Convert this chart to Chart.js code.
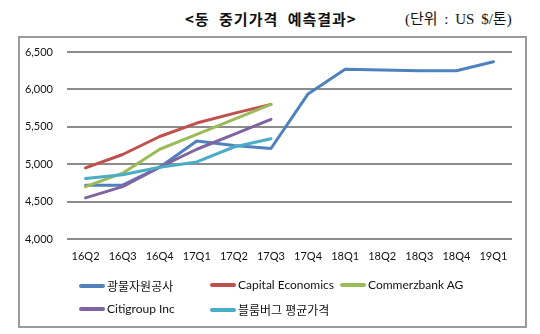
<!DOCTYPE html>
<html>
<head>
<meta charset="utf-8">
<script src="https://cdn.jsdelivr.net/npm/chart.js@4.4.1/dist/chart.umd.min.js"></script>
<style>
  html, body { margin: 0; padding: 0; background: #fff; }
  #wrap { position: relative; width: 540px; height: 334px; font-family: Lato, "Noto Sans CJK KR", sans-serif; }
  #frame { position: absolute; left: 18px; top: 36px; width: 505px; height: 288px; border: 2px solid #9a9a9a; }
  #chartBox { position: absolute; left: 0; top: 0; width: 540px; height: 334px; }
  #title { position: absolute; left: 185px; top: 8px; font: bold 15px "Noto Sans CJK KR", sans-serif; letter-spacing: 1px; word-spacing: 5px; color: #111; white-space: nowrap; }
  #unit { position: absolute; left: 405px; top: 7px; font: 15px "Liberation Serif", "Noto Sans CJK KR", serif; word-spacing: 3px; color: #111; white-space: nowrap; }
  .lg { position: absolute; display: flex; align-items: center; font-size: 12px; color: #111; white-space: nowrap; }
  .lg span.mark { display: inline-block; width: 26px; height: 4px; border-radius: 2px; margin-right: 2px; }
</style>
</head>
<body>
<div id="wrap">
  <div id="title">&lt;동 중기가격 예측결과&gt;</div>
  <div id="unit">(단위 : US $/톤)</div>
  <div id="frame"></div>
  <div id="chartBox"><canvas id="lineChart"></canvas></div>
  <div id="legend"></div>
</div>
<script>
// Trimestres (axe X)
const quarters = ['16Q2', '16Q3', '16Q4', '17Q1', '17Q2', '17Q3', '17Q4', '18Q1', '18Q2', '18Q3', '18Q4', '19Q1'];

// Prévisions par institution (US $/톤)
const kores = [4720, 4720, 4960, 5310, 5250, 5210, 5940, 6270, 6260, 6250, 6250, 6370];
const capitalEconomics = [4950, 5130, 5370, 5550, 5680, 5800];
const commerzbank = [4700, 4880, 5200, 5400, 5600, 5800];
const citigroup = [4550, 4700, 4960, 5200, 5400, 5600];
const bloomberg = [4810, 4860, 4960, 5030, 5230, 5340];

const seriesNames = ['광물자원공사', 'Capital Economics', 'Commerzbank AG', 'Citigroup Inc', '블룸버그 평균가격'];
const seriesColors = ['#4F81BD', '#C0504D', '#9BBB59', '#8064A2', '#4BACC6'];

// Graduations de l'axe Y
const yMin = 4000;
const yMax = 6500;
const yStep = 500;

function createLineChart() {
  const ctx = document.getElementById('lineChart');
  const allValues = [kores, capitalEconomics, commerzbank, citigroup, bloomberg];

  const datasets = allValues.map((values, i) => ({
    label: seriesNames[i],
    data: values,
    borderColor: seriesColors[i],
    backgroundColor: seriesColors[i],
    borderWidth: 3,
    pointRadius: 0,
    tension: 0,
    borderCapStyle: 'round',
    borderJoinStyle: 'round',
    order: allValues.length - i // comme Excel : la dernière série au-dessus
  }));

  return new Chart(ctx, {
    type: 'line',
    data: { labels: quarters, datasets: datasets },
    options: {
      responsive: true,
      maintainAspectRatio: false,
      animation: false,
      layout: { padding: { left: 0, right: 28, top: 52, bottom: 65 } },
      plugins: {
        legend: { display: false },
        title: { display: false },
        tooltip: { enabled: false }
      },
      scales: {
        x: {
          offset: true,
          grid: { display: false, drawTicks: false },
          border: { display: false },
          ticks: { color: '#111', padding: 11, maxRotation: 0, font: { family: 'Lato', size: 11 } },
          afterFit: (s) => { s.height = 30; }
        },
        y: {
          min: yMin,
          max: yMax,
          grid: { color: '#8c8c8c', lineWidth: 2, drawTicks: false },
          border: { display: false },
          ticks: {
            stepSize: yStep,
            color: '#111',
            padding: 14,
            font: { family: 'Lato', size: 11 },
            callback: (v) => v.toLocaleString('en-US')
          },
          afterFit: (s) => { s.width = 67; }
        }
      }
    }
  });
}

// Légende HTML (disposition en colonnes comme l'original)
function createLegend(chart) {
  const slots = [[79, 277], [210, 277], [340, 277], [79, 301], [210, 301]];
  const box = document.getElementById('legend');
  chart.data.datasets.forEach((ds, i) => {
    const item = document.createElement('div');
    item.className = 'lg';
    item.style.left = slots[i][0] + 'px';
    item.style.top = slots[i][1] + 'px';
    const mark = document.createElement('span');
    mark.className = 'mark';
    mark.style.background = ds.borderColor;
    const txt = document.createElement('span');
    txt.textContent = ds.label;
    item.appendChild(mark);
    item.appendChild(txt);
    box.appendChild(item);
  });
}

const chart = createLineChart();
createLegend(chart);
</script>
</body>
</html>
